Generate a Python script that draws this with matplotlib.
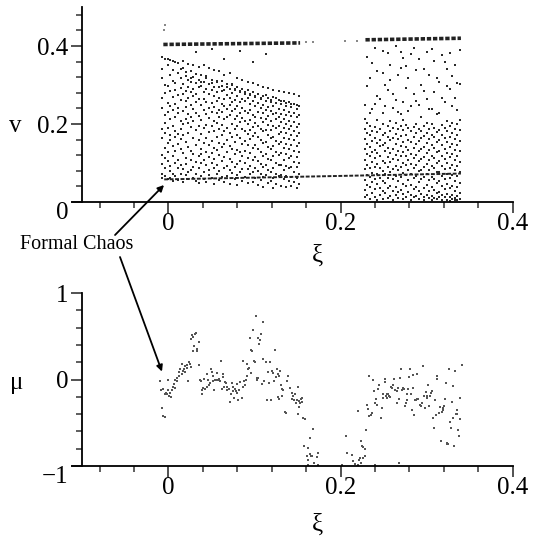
import matplotlib

matplotlib.use("Agg")
import matplotlib.pyplot as plt
from matplotlib.ticker import FixedLocator, MultipleLocator

plt.rcParams["font.family"] = ["Liberation Serif", "DejaVu Serif"]

# ---- top panel: v(xi) ----
# dense bands near v ~ 0.41 and the low branch near v ~ 0.06
band1_xi = [-0.006, 0.153]
band1_v = [0.404, 0.408]
band2_xi = [0.229, 0.340]
band2_v = [0.416, 0.420]
gap_xi = [0.160, 0.168, 0.205, 0.219, -0.005, -0.004]
gap_v = [0.410, 0.411, 0.412, 0.414, 0.440, 0.455]
low_xi = [-0.005, 0.340]
low_v = [0.058, 0.073]

# chaotic cloud, first window: column xi -> v values (in 1/1000)
cloud1_xi = [-0.007, -0.004, -0.001, 0.002, 0.005, 0.008, 0.011, 0.014, 0.017,
             0.020, 0.023, 0.026, 0.029, 0.032, 0.035, 0.038, 0.041, 0.044,
             0.047, 0.050, 0.053, 0.056, 0.059, 0.062, 0.065, 0.068, 0.071,
             0.074, 0.077, 0.080, 0.083, 0.086, 0.089, 0.092, 0.095, 0.098,
             0.101, 0.104, 0.107, 0.110, 0.113, 0.116, 0.119, 0.122, 0.125,
             0.128, 0.131, 0.134, 0.137, 0.140, 0.143, 0.146, 0.149, 0.152]
cloud1_v = [
    [371, 342, 318, 266, 241, 187, 164, 121, 98, 73, 61],
    [368, 301, 279, 224, 203, 178, 139, 112, 86, 66],
    [366, 352, 297, 255, 231, 190, 152, 127, 104, 58],
    [363, 326, 284, 247, 212, 171, 158, 93, 79, 62],
    [361, 338, 311, 269, 236, 196, 144, 118, 71, 54],
    [358, 306, 288, 252, 219, 183, 166, 132, 101, 67],
    [356, 331, 274, 240, 227, 175, 149, 109, 88, 57],
    [341, 317, 292, 261, 208, 186, 161, 136, 95, 73],
    [362, 343, 302, 278, 233, 199, 171, 125, 84, 52],
    [333, 322, 285, 259, 244, 214, 154, 113, 97, 68],
    [355, 314, 296, 267, 225, 202, 176, 141, 76, 59],
    [318, 336, 308, 281, 249, 218, 192, 131, 107, 83],
    [352, 321, 289, 272, 238, 207, 165, 122, 91, 62],
    [385, 329, 305, 276, 257, 229, 184, 146, 103, 71, 55],
    [347, 313, 294, 263, 221, 196, 158, 117, 87, 49],
    [309, 325, 298, 248, 211, 174, 137, 124, 99, 66],
    [351, 309, 283, 264, 235, 189, 151, 108, 78, 58],
    [322, 318, 291, 256, 226, 198, 163, 129, 94, 52],
    [344, 303, 277, 241, 216, 179, 146, 115, 82, 69],
    [392, 306, 312, 286, 253, 232, 194, 157, 126, 101, 61],
    [339, 296, 271, 244, 209, 183, 139, 111, 86, 47],
    [311, 307, 281, 259, 228, 203, 168, 133, 96, 72],
    [336, 294, 268, 237, 219, 186, 152, 121, 79, 56],
    [298, 311, 284, 252, 231, 197, 173, 142, 104, 63],
    [368, 327, 288, 263, 245, 212, 181, 148, 116, 88, 51],
    [294, 302, 274, 239, 217, 191, 159, 127, 92, 67],
    [331, 291, 266, 248, 223, 178, 144, 110, 81, 45],
    [302, 299, 279, 256, 234, 201, 166, 137, 102, 74],
    [289, 287, 262, 238, 213, 188, 155, 123, 90, 58],
    [318, 296, 271, 246, 221, 196, 172, 134, 97, 69, 43],
    [388, 285, 283, 257, 229, 205, 163, 128, 106, 77],
    [312, 290, 264, 242, 215, 187, 149, 118, 85, 54],
    [281, 278, 259, 233, 207, 182, 157, 131, 99, 65],
    [309, 286, 268, 227, 199, 174, 146, 112, 84, 48],
    [276, 274, 251, 236, 211, 185, 161, 126, 93, 71],
    [358, 305, 282, 258, 224, 192, 169, 138, 109, 76, 52],
    [272, 269, 246, 219, 203, 177, 147, 115, 87, 62],
    [299, 276, 254, 231, 195, 166, 135, 104, 80, 44],
    [268, 263, 241, 216, 188, 159, 129, 98, 73, 57],
    [296, 272, 249, 227, 206, 181, 152, 119, 91, 63, 39],
    [379, 274, 258, 237, 212, 184, 155, 124, 95, 68],
    [292, 266, 244, 221, 197, 171, 142, 111, 83, 49],
    [262, 257, 233, 208, 185, 163, 136, 107, 76, 55],
    [288, 269, 247, 226, 194, 168, 144, 117, 88, 61, 36],
    [266, 254, 229, 213, 189, 156, 128, 101, 72, 47],
    [284, 262, 238, 218, 196, 174, 149, 120, 94, 66],
    [258, 251, 226, 204, 179, 153, 126, 96, 69, 42],
    [281, 259, 235, 214, 191, 165, 139, 108, 82, 58],
    [255, 247, 223, 199, 176, 150, 122, 93, 67, 38],
    [279, 256, 232, 209, 187, 162, 137, 112, 86, 53],
    [252, 243, 221, 196, 172, 147, 119, 91, 64, 40],
    [276, 252, 229, 206, 183, 158, 131, 103, 78, 51],
    [248, 239, 217, 193, 169, 143, 116, 89, 61, 35],
    [271, 247, 224, 201, 178, 152, 127, 99, 72, 46],
]

# chaotic cloud, second window (v in 1/1000)
cloud2_xi = [0.228, 0.231, 0.234, 0.237, 0.240, 0.243, 0.246, 0.249, 0.252,
             0.255, 0.258, 0.261, 0.264, 0.267, 0.270, 0.273, 0.276, 0.279,
             0.282, 0.285, 0.288, 0.291, 0.294, 0.297, 0.300, 0.303, 0.306,
             0.309, 0.312, 0.315, 0.318, 0.321, 0.324, 0.327, 0.330, 0.333,
             0.336, 0.339]
cloud2_v = [
    [214, 188, 161, 137, 109, 84, 57, 31, 12, 248],
    [297, 203, 176, 149, 122, 96, 69, 44, 18, 372],
    [196, 171, 140, 117, 88, 63, 39, 8, 227, 318],
    [356, 238, 183, 157, 128, 102, 75, 51, 24],
    [251, 192, 165, 134, 113, 91, 58, 33, 14, 395],
    [272, 211, 179, 152, 125, 97, 71, 46, 5, 336],
    [186, 160, 143, 118, 86, 61, 37, 19, 264],
    [331, 229, 199, 172, 146, 106, 80, 54, 28, 9, 388],
    [245, 177, 151, 131, 99, 73, 48, 22, 301],
    [382, 287, 194, 168, 139, 115, 89, 62, 35, 11],
    [312, 209, 182, 158, 126, 103, 77, 42, 16, 352],
    [241, 190, 163, 136, 110, 84, 59, 29, 6, 278],
    [401, 262, 202, 174, 148, 121, 93, 66, 38, 17],
    [187, 161, 132, 108, 82, 53, 26, 10, 232, 327],
    [344, 226, 196, 169, 144, 117, 90, 64, 31, 385],
    [369, 211, 185, 155, 129, 101, 74, 47, 20, 7, 256],
    [292, 198, 172, 142, 119, 95, 68, 40, 13, 348],
    [318, 234, 189, 160, 133, 107, 81, 56, 25],
    [247, 181, 153, 124, 98, 72, 44, 18, 4, 379],
    [396, 276, 193, 167, 138, 114, 87, 61, 34, 12],
    [338, 201, 176, 149, 121, 94, 67, 39, 15, 259],
    [248, 188, 157, 131, 105, 79, 52, 27, 8, 366],
    [301, 219, 183, 164, 136, 110, 83, 58, 21],
    [195, 170, 141, 116, 89, 63, 36, 14, 5, 284, 341],
    [384, 264, 203, 177, 152, 125, 98, 71, 43, 19],
    [327, 186, 161, 134, 108, 82, 57, 29, 10, 238],
    [239, 199, 173, 147, 119, 93, 65, 38, 16, 4, 392],
    [361, 281, 191, 166, 139, 113, 86, 60, 32, 11],
    [226, 179, 155, 127, 101, 76, 49, 24, 7, 317],
    [309, 229, 185, 158, 131, 106, 78, 53, 26, 13],
    [376, 197, 172, 146, 118, 92, 66, 41, 17, 5, 268],
    [256, 190, 164, 137, 111, 85, 59, 33, 14, 359],
    [342, 209, 181, 153, 126, 99, 72, 45, 21, 6, 297],
    [291, 195, 168, 141, 116, 88, 62, 36, 12, 3, 381],
    [247, 203, 176, 149, 122, 96, 69, 42, 18, 8, 324],
    [351, 268, 188, 161, 134, 107, 81, 54, 27, 11, 4],
    [199, 173, 145, 119, 93, 66, 39, 15, 6, 236, 305],
    [389, 302, 211, 184, 157, 130, 103, 76, 48, 22, 9],
]

# ---- bottom panel: mu(xi) ----
mu_xi = [
    -0.0099, -0.0087, -0.0076, -0.0060, -0.0045, -0.0068, -0.0029, -0.0021, -0.0037,
    -0.0006, -0.0002, 0.0010, 0.0017, 0.0025, 0.0037, 0.0048, 0.0056, 0.0064, 0.0076,
    0.0079, 0.0095, 0.0103, 0.0118, 0.0126, 0.0134, 0.0153, 0.0157, 0.0172, 0.0180,
    0.0192, 0.0196, 0.0211, 0.0219, 0.0231, 0.0242, 0.0250, 0.0258, 0.0266, 0.0273,
    0.0281, 0.0289, 0.0297, 0.0312, 0.0320, 0.0328, 0.0335, 0.0351, 0.0355, 0.0366,
    0.0374, 0.0386, 0.0393, 0.0405, 0.0413, 0.0424, 0.0444, 0.0452, 0.0463, 0.0475,
    0.0483, 0.0494, 0.0502, 0.0514, 0.0521, 0.0529, 0.0541, 0.0560, 0.0568, 0.0579,
    0.0591, 0.0599, 0.0607, 0.0618, 0.0630, 0.0638, 0.0645, 0.0657, 0.0669, 0.0676,
    0.0684, 0.0700, 0.0715, 0.0723, 0.0734, 0.0746, 0.0754, 0.0762, 0.0773, 0.0785,
    0.0793, 0.0800, 0.0812, 0.0824, 0.0831, 0.0851, 0.0862, 0.0870, 0.0878, 0.0890,
    0.0901, 0.0909, 0.0917, 0.0928, 0.0940, 0.0948, 0.0955, 0.0963, 0.0971, 0.0986,
    0.0994, 0.1010, 0.1017, 0.1025, 0.1033, 0.1045, 0.1056,
    0.1103, 0.1076, 0.1060, 0.1103, 0.1130, 0.1180, 0.1161, 0.1207, 0.1219, 0.1258,
    0.1238, 0.1045, 0.1091, 0.1114, 0.1169, 0.1231, 0.1246, 0.1269, 0.1297, 0.1285,
    0.1308, 0.1324, 0.1335, 0.1378, 0.1386, 0.1393, 0.1413, 0.1432, 0.1452, 0.1440,
    0.1471, 0.1463, 0.1490, 0.1479, 0.1510, 0.1517, 0.1533, 0.1541, 0.1548, 0.1556,
    0.1517, 0.1502, 0.1141, 0.1192, 0.1269, 0.1285, 0.1316, 0.1355, 0.1366, 0.1568,
    0.1587, 0.1684, 0.1645, 0.1579, 0.1618, 0.1606, 0.1645, 0.1657, 0.1673, 0.1742,
    0.1723, 0.1696, 0.1626, 0.1626, 0.1735, 0.2060, 0.2072, 0.2138, 0.2149, 0.2169,
    0.2200, 0.2215, 0.2238, 0.2246, 0.2266, 0.2285, 0.2200, 0.2013, 0.2238,
    0.2227, 0.2258, 0.2285, 0.2297, 0.2304, 0.2324, 0.2335, 0.2351, 0.2362, 0.2335,
    0.2374, 0.2390, 0.2401, 0.2412, 0.2421, 0.2440, 0.2452, 0.2467, 0.2479, 0.2490,
    0.2498, 0.2514, 0.2517, 0.2529, 0.2537, 0.2545, 0.2556, 0.2568, 0.2576, 0.2595,
    0.2583, 0.2607, 0.2622, 0.2634, 0.2653, 0.2661, 0.2672, 0.2692, 0.2700, 0.2684,
    0.2711, 0.2723, 0.2738, 0.2750, 0.2762, 0.2769, 0.2777, 0.2789, 0.2800, 0.2808,
    0.2816, 0.2839, 0.2847, 0.2828, 0.2855, 0.2866, 0.2878, 0.2886, 0.2893, 0.2905,
    0.2924, 0.2932, 0.2944, 0.2963, 0.2971, 0.2983, 0.2994, 0.3002, 0.3010, 0.3021,
    0.3033, 0.3041, 0.3048, 0.3060, 0.3072, 0.3087, 0.3099, 0.3110, 0.3118, 0.3126,
    0.3149, 0.3157, 0.3165, 0.3176, 0.3188, 0.3196, 0.3203, 0.3215, 0.3227, 0.3234,
    0.3242, 0.3254, 0.3265, 0.3273, 0.3281, 0.3293, 0.3304, 0.3312, 0.3320, 0.3331,
    0.3343, 0.3351, 0.3358, 0.3370, 0.3382, 0.3389, 0.2684, 0.2401, 0.3417, 0.3390,
]
mu_val = [
    -0.019, -0.123, -0.328, -0.424, -0.432, -0.108, -0.154, -0.173, -0.173,
    0.000, -0.123, -0.193, -0.154, -0.200, -0.116, -0.085, -0.085, -0.046, -0.096,
    0.000, -0.019, 0.019, 0.039, 0.085, 0.116, 0.069, 0.185, 0.096, 0.116,
    0.085, 0.154, 0.173, 0.135, -0.019, 0.200, 0.185, 0.470, 0.146, 0.520,
    0.493, 0.328, 0.393, 0.532, 0.539, 0.355, 0.328, 0.432, 0.173, 0.000,
    -0.019, -0.173, -0.123, -0.096, 0.008, -0.108, -0.085, 0.069, 0.000, -0.069,
    -0.039, 0.116, 0.085, 0.046, -0.019, -0.116, 0.000, 0.077, -0.008, 0.000,
    0.008, -0.019, 0.212, -0.108, 0.031, 0.069, -0.085, -0.031, -0.039, -0.085,
    -0.123, -0.108, -0.262, -0.173, -0.039, -0.085, -0.135, -0.212, -0.108, -0.135,
    -0.046, -0.154, -0.239, -0.123, -0.031, -0.212, 0.212, -0.085, -0.019, -0.058,
    -0.008, 0.039, 0.185, 0.116, 0.135, 0.482, 0.077, 0.347, 0.328, 0.578,
    0.212, 0.200, 0.740, 0.000, 0.019, 0.482, 0.416,
    0.663, 0.532, 0.462, 0.239, 0.200, 0.200, 0.085, 0.096, 0.077, 0.116,
    0.339, 0.015, -0.046, -0.015, -0.039, -0.019, 0.031, 0.069, 0.096, 0.046,
    -0.058, -0.108, -0.116, -0.012, 0.046, 0.039, -0.096, -0.154, -0.193, -0.224,
    -0.173, -0.231, -0.231, -0.277, -0.085, -0.250, -0.270, -0.224, -0.212, -0.262,
    -0.316, -0.393, -0.231, -0.231, -0.200, -0.224, -0.193, -0.378, -0.385, -0.443,
    -0.455, -0.570, -0.674, -0.763, -0.790, -0.886, -0.859, -0.886, -0.886, -0.855,
    -0.894, -0.963, -0.925, -0.983, -0.983, -0.655, -0.855, -0.867, -0.944, -0.971,
    -0.983, -0.925, -0.713, -0.771, -0.906, -0.886, -0.366, -0.983, -0.963,
    -0.906, -0.778, -0.802, -0.586, -0.289, -0.339, -0.424, -0.405, -0.385, 0.039,
    0.000, -0.135, -0.270, -0.224, -0.289, -0.108, -0.069, -0.443, -0.328, -0.212,
    -0.162, 0.008, -0.031, -0.193, -0.162, -0.212, -0.173, -0.193, -0.200, -0.096,
    -0.085, -0.069, 0.008, -0.123, -0.135, -0.277, -0.096, 0.019, 0.123, -0.224,
    -0.123, -0.096, -0.108, -0.301, -0.277, -0.173, -0.231, -0.108, 0.031, 0.123,
    -0.162, 0.058, -0.096, -0.347, -0.405, -0.231, -0.239, -0.224, 0.069, -0.224,
    -0.289, -0.301, -0.270, 0.154, -0.185, -0.328, -0.146, -0.193, -0.212, -0.069,
    -0.308, -0.193, -0.154, -0.135, -0.443, -0.559, -0.239, -0.405, 0.008, 0.046,
    -0.385, -0.316, -0.713, -0.378, -0.347, -0.328, -0.308, -0.224, -0.039, -0.740,
    -0.732, -0.740, 0.123, -0.493, -0.559, -0.262, -0.077, -0.443, -0.763, 0.096,
    -0.393, -0.347, -0.393, -0.578, -0.655, -0.462, -0.963, -0.994, 0.173, -0.212,
]

x_ticks = [0, 0.2, 0.4]
x_labels = ["0", "0.2", "0.4"]
v_ticks = [0, 0.2, 0.4]
v_labels = ["0", "0.2", "0.4"]
mu_ticks = [-1, 0, 1]
mu_labels = ["\u22121", "0", "1"]

FS = 18
DOT = "#2a2a2a"


def style_axes(ax, yticks, ylabels, ylim, yminor):
    ax.set_xlim(-0.112, 0.4)
    ax.set_ylim(*ylim)
    for side in ("top", "right"):
        ax.spines[side].set_visible(False)
    ax.spines["left"].set_position(("data", -0.1))
    ax.spines["left"].set_bounds(*ylim)
    for side in ("left", "bottom"):
        ax.spines[side].set_linewidth(1.3)
    ax.xaxis.set_major_locator(FixedLocator(x_ticks))
    ax.set_xticklabels(x_labels)
    ax.xaxis.set_minor_locator(MultipleLocator(0.04))
    ax.yaxis.set_major_locator(FixedLocator(yticks))
    ax.set_yticklabels(ylabels)
    ax.yaxis.set_minor_locator(MultipleLocator(yminor))
    ax.tick_params(which="major", direction="out", length=8, width=1.2,
                   labelsize=FS, color="#333333")
    ax.tick_params(which="minor", direction="out", length=4, width=1.1,
                   color="#333333")
    ax.tick_params(axis="x", which="major", pad=0)
    ax.tick_params(axis="y", which="major", pad=2)
    ax.get_yticklabels()[0].set_va("top")
    ax.set_facecolor("none")


def cloud_points(xs, cols):
    px, pv = [], []
    for x, col in zip(xs, cols):
        px += [x] * len(col)
        pv += [c / 1000 for c in col]
    return px, pv


fig = plt.figure(figsize=(5.35, 5.5), dpi=100)
ax_v = fig.add_axes([0.1349, 0.6327, 0.8231, 0.3545])
ax_mu = fig.add_axes([0.1349, 0.1527, 0.8231, 0.3145])

# top panel
for xs, cols in ((cloud1_xi, cloud1_v), (cloud2_xi, cloud2_v)):
    px, pv = cloud_points(xs, cols)
    ax_v.scatter(px, pv, s=1.9, marker="s", color=DOT, linewidths=0)
ax_v.plot(band1_xi, band1_v, color="#222222", linewidth=2.6, dashes=(1.2, 0.5))
ax_v.plot(band2_xi, band2_v, color="#222222", linewidth=2.6, dashes=(1.2, 0.5))
ax_v.plot(low_xi, low_v, color="#222222", linewidth=1.4, dashes=(2.0, 0.8))
ax_v.scatter(gap_xi, gap_v, s=1.5, marker="s", color="#888888", linewidths=0)
style_axes(ax_v, v_ticks, v_labels, (0, 0.5), 0.04)

# bottom panel
ax_mu.scatter(mu_xi, mu_val, s=2.2, marker="s", color="#555555", linewidths=0,
              clip_on=False)
style_axes(ax_mu, mu_ticks, mu_labels, (-1, 1), 0.2)

# axis labels
fig.text(0.028, 0.771, "v", fontsize=FS, ha="center", va="center")
fig.text(0.5925, 0.535, "\u03be", fontsize=FS, ha="center", va="center")
fig.text(0.032, 0.304, "\u03bc", fontsize=FS, ha="center", va="center")
fig.text(0.5925, 0.047, "\u03be", fontsize=FS, ha="center", va="center")

# annotation
fig.text(0.0374, 0.556, "Formal Chaos", fontsize=14.5, ha="left", va="center")
arrow = dict(arrowstyle="-|>", color="black", lw=1.3, shrinkA=0, shrinkB=0,
             mutation_scale=9)
ax_v.annotate("", xy=(-0.0052, 0.0436), xycoords="data",
              xytext=(0.215, 0.5727), textcoords="figure fraction",
              arrowprops=arrow, annotation_clip=False)
ax_mu.annotate("", xy=(-0.0076, 0.092), xycoords="data",
               xytext=(0.2243, 0.5327), textcoords="figure fraction",
               arrowprops=arrow, annotation_clip=False)

fig.savefig("out.png", dpi=100)
plt.close(fig)
